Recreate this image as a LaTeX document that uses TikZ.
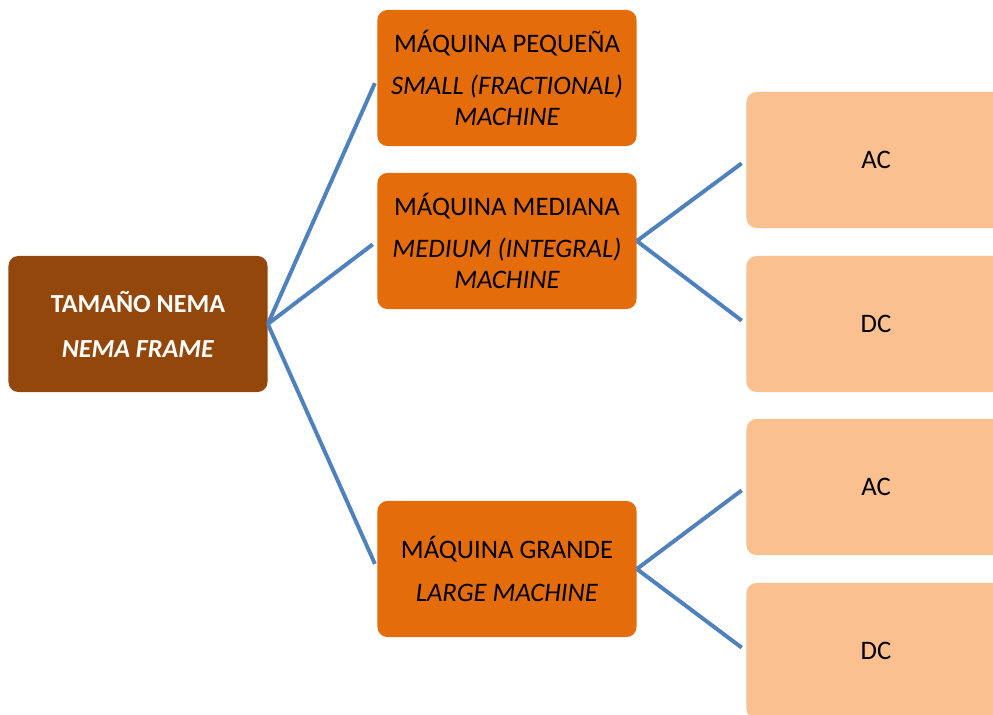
\documentclass[tikz,border=0pt]{standalone}
\usepackage{fontspec}
\setmainfont{Carlito}
\usetikzlibrary{positioning}

\definecolor{rootbrown}{RGB}{148,71,10}
\definecolor{midorange}{RGB}{228,108,10}
\definecolor{leafpeach}{RGB}{250,192,144}
\definecolor{linkblue}{RGB}{79,129,189}

\begin{document}
\begin{tikzpicture}[x=0.025cm, y=-0.025cm,
        box/.style={rounded corners=0.25cm, minimum width=6.475cm, minimum height=3.4cm,
                    align=center, inner sep=0pt, font=\fontsize{19}{22}\selectfont},
        rootbox/.style={box, fill=rootbrown, text=white, font=\fontsize{18.5}{22}\selectfont\bfseries},
        midbox/.style={box, fill=midorange},
        leafbox/.style={box, fill=leafpeach},
        link/.style={draw=linkblue, line width=2.8pt, shorten >=4pt}]

        % the frame of the picture
        \path[use as bounding box, clip] (0,0) rectangle (993,715);

        % the root
        \node[rootbox] (frame) at (138,324) {TAMAÑO NEMA\\[10pt]\textit{NEMA FRAME}};

        % the three machine sizes
        \node[midbox] (small)  at (507,78)  {MÁQUINA PEQUEÑA\\[8pt]\textit{SMALL (FRACTIONAL)}\\\textit{MACHINE}};
        \node[midbox] (medium) at (507,241) {MÁQUINA MEDIANA\\[8pt]\textit{MEDIUM (INTEGRAL)}\\\textit{MACHINE}};
        \node[midbox] (large)  at (507,569) {MÁQUINA GRANDE\\[8pt]\textit{LARGE MACHINE}};

        % the current types
        \node[leafbox] (acmed)   at (876,160) {AC};
        \node[leafbox] (dcmed)   at (876,324) {DC};
        \node[leafbox] (aclarge) at (876,487) {AC};
        \node[leafbox] (dclarge) at (876,651) {DC};

        % the links
        \draw[link] (frame.east) -- (small.west);
        \draw[link] (frame.east) -- (medium.west);
        \draw[link] (frame.east) -- (large.west);
        \draw[link] (medium.east) -- (acmed.west);
        \draw[link] (medium.east) -- (dcmed.west);
        \draw[link] (large.east) -- (aclarge.west);
        \draw[link] (large.east) -- (dclarge.west);
\end{tikzpicture}
\end{document}
